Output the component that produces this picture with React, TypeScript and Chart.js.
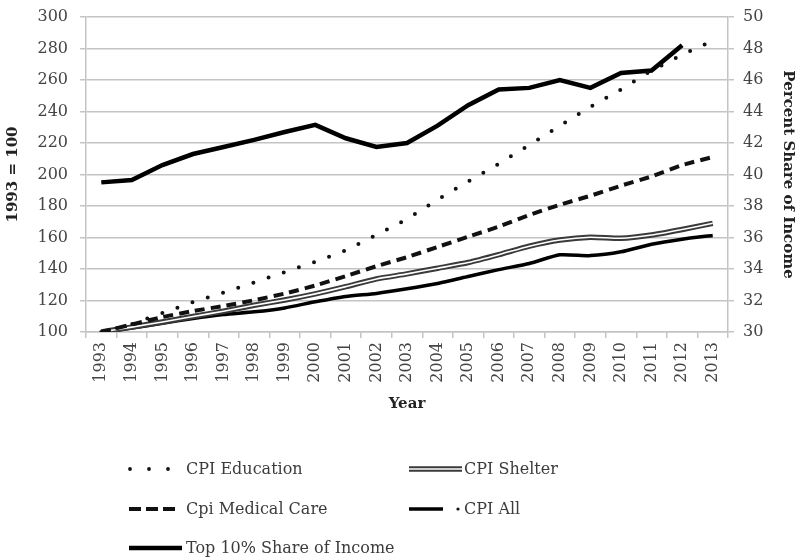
import React, { useEffect, useRef } from "react";
import { Chart, registerables } from "chart.js";

Chart.register(...registerables);

const years = ["1993","1994","1995","1996","1997","1998","1999","2000","2001","2002","2003","2004","2005","2006","2007","2008","2009","2010","2011","2012","2013"];
const cpiEducation = [100, 105, 112, 119, 125, 131.5, 138, 144.6, 151.8, 161.6, 171.7, 184, 195.6, 206.8, 218.7, 231, 243, 254, 266, 276, 285];
const cpiShelter = [100, 103.1, 106.4, 109.8, 113.2, 117, 120.3, 124.2, 128.8, 133.7, 136.9, 140.5, 144.1, 149.1, 154.5, 158.4, 160.2, 159.5, 161.6, 165.1, 169];
const cpiMedicalCare = [100, 104.8, 109.5, 113.3, 116.5, 120.2, 124.4, 129.5, 135.5, 141.8, 147.5, 154, 160.5, 166.9, 174.3, 180.8, 186.5, 192.9, 198.8, 206, 211.1];
const cpiAll = [100, 102.6, 105.5, 108.6, 111.1, 112.8, 115.3, 119.2, 122.6, 124.5, 127.4, 130.8, 135.2, 139.6, 143.5, 149, 148.5, 150.9, 155.7, 158.9, 161.3];
const top10Share = [39.5, 39.65, 40.6, 41.3, 41.75, 42.2, 42.7, 43.15, 42.3, 41.75, 42.0, 43.1, 44.4, 45.4, 45.5, 46.0, 45.5, 46.45, 46.6, 48.2, null];

const leftMin = 100, leftMax = 300, leftStep = 20;
const rightMin = 30, rightMax = 50, rightStep = 2;

const FONT = "'DejaVu Serif', serif";
const GRID = "#c4c4c4";
const TICK_COLOR = "#444";

export default function App() {
  const ref = useRef<HTMLCanvasElement>(null);

  useEffect(() => {
    if (!ref.current) return;
    const fixV = (w: number) => (s: any) => {
      s.width = w;
      s.paddingTop = 9.6;
      s.paddingBottom = 9.6;
    };
    const chart = new Chart(ref.current, {
      type: "line",
      data: {
        labels: years,
        datasets: [
          {
            label: "CPI Education",
            data: cpiEducation,
            borderColor: "#111",
            borderWidth: 4,
            borderDash: [0, 16],
            borderCapStyle: "round",
            pointRadius: 0,
            yAxisID: "y",
          },
          {
            label: "Cpi Medical Care",
            data: cpiMedicalCare,
            borderColor: "#111",
            borderWidth: 4,
            borderDash: [10, 6],
            pointRadius: 0,
            tension: 0.15,
            yAxisID: "y",
          },
          {
            label: "CPI Shelter inner",
            data: cpiShelter,
            borderColor: "#ffffff",
            borderWidth: 1.6,
            pointRadius: 0,
            tension: 0.2,
            yAxisID: "y",
          },
          {
            label: "CPI Shelter",
            data: cpiShelter,
            borderColor: "#3a3a3a",
            borderWidth: 5.5,
            pointRadius: 0,
            tension: 0.2,
            yAxisID: "y",
          },
          {
            label: "CPI All",
            data: cpiAll,
            borderColor: "#000",
            borderWidth: 3.5,
            pointRadius: 0,
            tension: 0.2,
            yAxisID: "y",
          },
          {
            label: "Top 10% Share of Income",
            data: top10Share,
            borderColor: "#000",
            borderWidth: 4.5,
            pointRadius: 0,
            yAxisID: "y1",
          },
        ],
      },
      options: {
        animation: false,
        responsive: true,
        maintainAspectRatio: false,
        layout: { padding: { top: 17, left: 0, right: 0, bottom: 142 } },
        plugins: { legend: { display: false }, tooltip: { enabled: false } },
        scales: {
          x: {
            type: "category",
            offset: true,
            grid: { display: true, drawOnChartArea: false, drawTicks: true, tickLength: 6, offset: true, color: GRID, lineWidth: 1.5 },
            border: { display: true, color: GRID, width: 1.5 },
            ticks: { autoSkip: false, maxRotation: 90, minRotation: 90, padding: 4, color: TICK_COLOR, font: { family: FONT, size: 16 } },
            title: { display: true, text: "Year", color: "#222", font: { family: FONT, size: 15, weight: "bold" }, padding: { top: 4, bottom: 4 } },
            afterFit: (s: any) => { s.height = 85; },
          },
          y: {
            position: "left",
            min: leftMin,
            max: leftMax,
            grid: { color: GRID, lineWidth: 1.5, tickLength: 6 },
            border: { display: true, color: GRID, width: 1.5 },
            ticks: { stepSize: leftStep, padding: 12, color: TICK_COLOR, font: { family: FONT, size: 16 } },
            title: { display: true, text: "1993 = 100", color: "#222", font: { family: FONT, size: 15, weight: "bold" }, padding: { top: 4, bottom: 4 } },
            afterFit: fixV(86),
          },
          y1: {
            position: "right",
            min: rightMin,
            max: rightMax,
            grid: { drawOnChartArea: false, color: GRID, lineWidth: 1.5, tickLength: 6 },
            border: { display: true, color: GRID, width: 1.5 },
            ticks: { stepSize: rightStep, padding: 9, color: TICK_COLOR, font: { family: FONT, size: 16 } },
            title: { display: true, text: "Percent Share of Income", color: "#222", font: { family: FONT, size: 15, weight: "bold" }, padding: { top: 0, bottom: 0 } },
            afterFit: fixV(69),
          },
        },
      },
    });
    return () => chart.destroy();
  }, []);

  const textStyle = { fontFamily: FONT, fontSize: 16, fill: "#3c3c3c" } as any;

  return (
    <div style={{ position: "fixed", left: 0, top: 0, width: 797, height: 559, background: "#fff" }}>
      <canvas ref={ref} />
      <svg width={797} height={120} style={{ position: "absolute", left: 0, top: 440 }}>
        <circle cx={130} cy={29} r={1.9} fill="#111" />
        <circle cx={149} cy={29} r={1.9} fill="#111" />
        <circle cx={168} cy={29} r={1.9} fill="#111" />
        <text x={186} y={34} style={textStyle}>CPI Education</text>
        <line x1={409} y1={29} x2={462} y2={29} stroke="#3a3a3a" strokeWidth={5.5} />
        <line x1={409} y1={29} x2={462} y2={29} stroke="#fff" strokeWidth={1.6} />
        <text x={464} y={34} style={textStyle}>CPI Shelter</text>
        <line x1={129} y1={69} x2={177} y2={69} stroke="#111" strokeWidth={4} strokeDasharray="12 5" />
        <text x={186} y={74} style={textStyle}>Cpi Medical Care</text>
        <line x1={409} y1={69} x2={443} y2={69} stroke="#000" strokeWidth={3.5} />
        <circle cx={458} cy={69} r={1.6} fill="#111" />
        <text x={464} y={74} style={textStyle}>CPI All</text>
        <line x1={129} y1={108} x2={182} y2={108} stroke="#000" strokeWidth={4.5} />
        <text x={186} y={113} style={textStyle}>Top 10% Share of Income</text>
      </svg>
    </div>
  );
}
